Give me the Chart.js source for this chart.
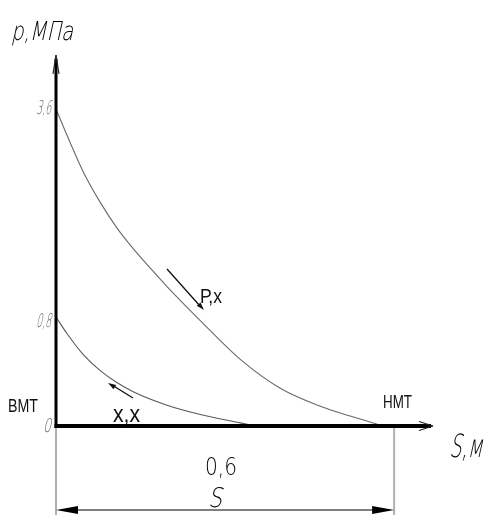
<!DOCTYPE html>
<html>
<head>
<meta charset="utf-8">
<script src="https://cdn.jsdelivr.net/npm/chart.js@4.4.1/dist/chart.umd.min.js"></script>
<style>
  html, body { margin: 0; padding: 0; background: #fff; }
  #wrap { position: relative; width: 486px; height: 515px; }
</style>
</head>
<body>
<div id="wrap"><canvas id="c" width="486" height="515"></canvas></div>
<script>
// ---- data ----
// working stroke (Р,х): S in metres, p in MPa
const upperS = [0.0, 0.025, 0.048, 0.078, 0.108, 0.137, 0.167, 0.197, 0.256, 0.327, 0.398, 0.469, 0.522, 0.581];
const upperP = [3.6, 3.15, 2.76, 2.35, 2.00, 1.72, 1.46, 1.21, 0.774, 0.489, 0.277, 0.145, 0.073, 0.0];
// idle stroke (х,х)
const lowerS = [0.0, 0.0195, 0.048, 0.078, 0.108, 0.137, 0.197, 0.256, 0.327, 0.355];
const lowerP = [0.8, 0.679, 0.526, 0.408, 0.319, 0.252, 0.153, 0.085, 0.023, 0.0];
// axis tick labels (p, MPa)
const yTickValues = [0, 0.8, 3.6];
const yTickLabels = ['0', '0,8', '3,6'];
const strokeS = 0.6;
const strokeLabel = '0,6';

// ---- schematic (broken) pressure axis: scale config ----
const yBreaks = [0, 0.8, 3.6, 4.2];
const yBreakFrac = [0, 0.2938, 0.8544, 1];
function pToFrac(v) {
  for (let i = 1; i < yBreaks.length; i++) {
    if (v <= yBreaks[i] || i === yBreaks.length - 1) {
      const t = (v - yBreaks[i-1]) / (yBreaks[i] - yBreaks[i-1]);
      return yBreakFrac[i-1] + t * (yBreakFrac[i] - yBreakFrac[i-1]);
    }
  }
}
function fracToP(f) {
  for (let i = 1; i < yBreakFrac.length; i++) {
    if (f <= yBreakFrac[i] || i === yBreakFrac.length - 1) {
      const t = (f - yBreakFrac[i-1]) / (yBreakFrac[i] - yBreakFrac[i-1]);
      return yBreaks[i-1] + t * (yBreaks[i] - yBreaks[i-1]);
    }
  }
}
class BrokenScale extends Chart.LinearScale {
  getPixelForValue(v) {
    if (v === null || v === undefined) return NaN;
    return this.getPixelForDecimal(pToFrac(v));
  }
  getValueForPixel(p) { return fracToP(this.getDecimalForPixel(p)); }
}
BrokenScale.id = 'broken';
BrokenScale.defaults = Chart.LinearScale.defaults;
Chart.register(BrokenScale);

function pts(xs, ys) { return xs.map((x, i) => ({ x: x, y: ys[i] })); }

function fitText(ctx, str, x, baseline, font, width, color, align, skew) {
  ctx.save();
  ctx.font = font;
  const w = ctx.measureText(str).width;
  const k = width / w;
  let left = x;
  if (align === 'center') left = x - width / 2;
  else if (align === 'right') left = x - width;
  ctx.translate(left, baseline);
  if (skew) ctx.transform(1, 0, -skew, 1, 0, 0);
  ctx.scale(k, 1);
  ctx.textAlign = 'left';
  ctx.textBaseline = 'alphabetic';
  ctx.fillStyle = color;
  ctx.fillText(str, 0, 0);
  ctx.restore();
}

function line(ctx, x1, y1, x2, y2, w, color) {
  ctx.save();
  ctx.strokeStyle = color; ctx.lineWidth = w;
  ctx.beginPath(); ctx.moveTo(x1, y1); ctx.lineTo(x2, y2); ctx.stroke();
  ctx.restore();
}
function filledArrowHead(ctx, tx, ty, fx, fy, len, half, color) {
  const dx = tx - fx, dy = ty - fy, L = Math.hypot(dx, dy);
  const ux = dx / L, uy = dy / L;
  const bx = tx - ux * len, by = ty - uy * len;
  ctx.save();
  ctx.fillStyle = color;
  ctx.beginPath();
  ctx.moveTo(tx, ty);
  ctx.lineTo(bx - uy * half, by + ux * half);
  ctx.lineTo(bx + uy * half, by - ux * half);
  ctx.closePath(); ctx.fill();
  ctx.restore();
}

const GOST = '"DejaVu Sans", sans-serif';
const SANS = '"Liberation Sans", Arial, sans-serif';

const drawing = {
  id: 'drawing',
  afterDatasetsDraw(chart) {
    const ctx = chart.ctx;
    const xs = chart.scales.x, ys = chart.scales.y;
    const x0 = xs.getPixelForValue(0);
    const y0 = ys.getPixelForValue(0);
    const xEnd = xs.right, yTop = ys.top;
    const xStroke = xs.getPixelForValue(strokeS);
    const H = chart.height;

    // extension lines (grey)
    line(ctx, x0, y0, x0, H, 2, '#b0b0b0');
    line(ctx, xStroke, y0, xStroke, H, 2, '#b0b0b0');

    // y axis
    line(ctx, x0, y0 + 2, x0, yTop + 4, 3, '#000');
    line(ctx, x0, yTop, x0 - 3, yTop + 19, 1.2, '#222');
    line(ctx, x0, yTop, x0 + 3, yTop + 19, 1.2, '#222');
    // x axis
    line(ctx, x0 - 1.5, y0, xEnd - 2, y0, 4, '#000');
    line(ctx, xEnd, y0, xEnd - 14, y0 - 4.5, 1.2, '#222');
    line(ctx, xEnd, y0, xEnd - 14, y0 + 4.5, 1.2, '#222');

    // dimension line
    const yd = H - 5;
    line(ctx, x0 + 10, yd, xStroke - 10, yd, 1, '#000');
    filledArrowHead(ctx, x0, yd, xStroke, yd, 22, 4, '#000');
    filledArrowHead(ctx, xStroke, yd, x0, yd, 22, 4, '#000');
    const xm = (x0 + xStroke) / 2;
    fitText(ctx, strokeLabel, xm - 4, 475, '200 24px ' + GOST, 32, '#000', 'center');
    fitText(ctx, 'S', xm - 10, 507, '200 27px ' + GOST, 14, '#000', 'center', 0.22);

    // tick labels
    yTickValues.forEach((v, i) => {
      const py = ys.getPixelForValue(v);
      const off = [6, 10, 5][i];
      fitText(ctx, yTickLabels[i], x0 - 5, py + off, '200 19px ' + GOST, i === 0 ? 8 : 15, '#6a6a6a', 'right', 0.22);
    });

    // axis titles
    fitText(ctx, 'p,МПа', 11, 40, '200 26px ' + GOST, 62, '#000', 'left', 0.22);
    fitText(ctx, 'S,м', 449, 457, '200 32px ' + GOST, 33, '#000', 'left', 0.22);

    // dead centres
    fitText(ctx, 'ВМТ', 8, 412, '18px ' + SANS, 30, '#111', 'left');
    fitText(ctx, 'НМТ', 383, 408, '18px ' + SANS, 29, '#111', 'left');

    // stroke annotations
    line(ctx, 167, 269, 200, 306, 1.3, '#111');
    filledArrowHead(ctx, 204, 310, 167, 269, 8, 2.5, '#111');
    fitText(ctx, 'Р,х', 200, 303, '20px ' + SANS, 22, '#111', 'left');

    line(ctx, 133, 398, 112, 385, 1.3, '#111');
    filledArrowHead(ctx, 108, 383, 133, 398, 8, 2.5, '#111');
    fitText(ctx, 'х,х', 113, 422, '24px ' + SANS, 27, '#111', 'left');
  }
};

new Chart(document.getElementById('c'), {
  type: 'scatter',
  data: {
    datasets: [
      { label: 'Р,х', data: pts(upperS, upperP), showLine: true, borderColor: '#6a6a6a', borderWidth: 1.1,
        pointRadius: 0, cubicInterpolationMode: 'monotone', clip: false },
      { label: 'х,х', data: pts(lowerS, lowerP), showLine: true, borderColor: '#5a5a5a', borderWidth: 1.1,
        pointRadius: 0, cubicInterpolationMode: 'monotone', clip: false }
    ]
  },
  options: {
    responsive: false,
    animation: false,
    devicePixelRatio: 1,
    layout: { padding: { left: 56, right: 53, top: 55, bottom: 89 } },
    plugins: { legend: { display: false }, tooltip: { enabled: false } },
    scales: {
      x: { type: 'linear', min: 0, max: 0.669, display: false },
      y: { type: 'broken', min: 0, max: 4.2, display: false }
    }
  },
  plugins: [drawing]
});
</script>
</body>
</html>
